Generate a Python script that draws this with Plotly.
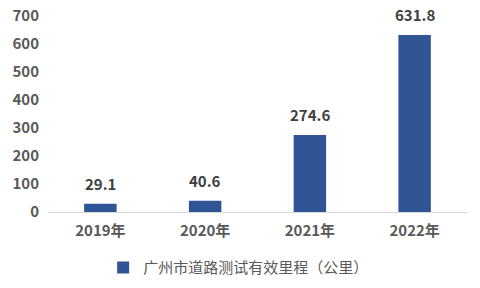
import plotly.graph_objects as go

categories = ["2019年", "2020年", "2021年", "2022年"]
values = [29.1, 40.6, 274.6, 631.8]
series_name = "广州市道路测试有效里程（公里）"
y_ticks = [0, 100, 200, 300, 400, 500, 600, 700]

font_family = "Microsoft YaHei, Noto Sans CJK SC, sans-serif"

fig = go.Figure()
fig.add_trace(go.Bar(
    x=categories, y=values, name=series_name,
    marker=dict(color="#2F5597", line=dict(width=0)),
    width=0.31,
    showlegend=True,
))
for c, v in zip(categories, values):
    fig.add_annotation(x=c, y=v, text=f"{v:.1f}", showarrow=False,
                       yanchor="bottom", yshift=8,
                       font=dict(size=15, color="#404040", family=font_family, weight="bold"))
fig.update_layout(
    width=480, height=288,
    margin=dict(l=48, r=13, t=16, b=76, autoexpand=False),
    plot_bgcolor="white", paper_bgcolor="white",
    font=dict(family=font_family, color="#595959"),
    showlegend=True,
    legend=dict(orientation="h", x=0.455, xanchor="center", yref="container", y=0.07, yanchor="middle",
                font=dict(size=15, color="#595959"), itemwidth=30),
    xaxis=dict(showline=True, linecolor="#D9D9D9", linewidth=1, ticks="", ticklabelstandoff=5,
               tickfont=dict(size=15, color="#595959", weight="bold"), showgrid=False),
    yaxis=dict(range=[0, 700], tickvals=y_ticks, showgrid=False, zeroline=False,
               showline=False, ticklabelstandoff=8,
               tickfont=dict(size=15, color="#595959", weight="bold"), ticklen=0),
)
fig.write_html("out.html")
